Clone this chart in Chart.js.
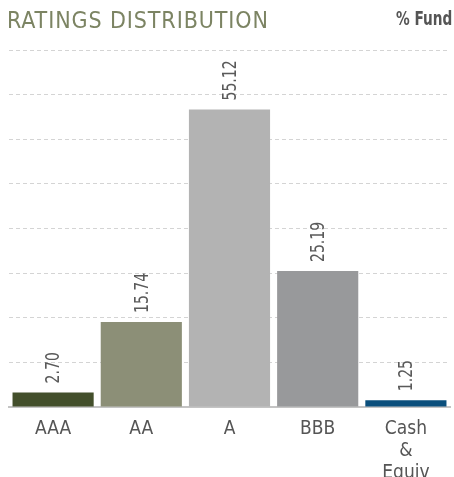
<!DOCTYPE html>
<html lang="en">
<head>
  <meta charset="UTF-8">
  <title>Ratings Distribution</title>
  <script src="https://cdn.jsdelivr.net/npm/chart.js"></script>
  <style>
    body { margin: 0; background: #fff; font-family: 'Liberation Sans Narrow', 'DejaVu Sans Condensed', sans-serif; }
    #wrap { position: relative; width: 454px; height: 477px; overflow: hidden; }
    #title { position: absolute; left: 7px; top: 7px; font-size: 23px; color: #7c8463; letter-spacing: 0.9px; white-space: nowrap; }
    #unit { position: absolute; right: 2px; top: 7px; font-size: 19px; font-weight: bold; color: #555;
            transform: scaleX(0.8); transform-origin: right center; white-space: nowrap; }
    canvas { position: absolute; left: 0; top: 0; }
  </style>
</head>
<body>
  <div id="wrap">
    <canvas id="chartCanvas" width="454" height="477"></canvas>
    <div id="title">RATINGS DISTRIBUTION</div>
    <div id="unit">% Fund</div>
  </div>

  <script>
    const categories = ['AAA', 'AA', 'A', 'BBB', ['Cash', '&', 'Equiv']];
    const fundPct = [2.70, 15.74, 55.12, 25.19, 1.25];
    const valueLabels = ['2.70', '15.74', '55.12', '25.19', '1.25'];
    const barColors = ['#434f2b', '#8c8f77', '#b3b3b3', '#98999b', '#0b4f7c'];

    const FONT = "'Liberation Sans Narrow', 'DejaVu Sans Condensed', sans-serif";

    // rotated value labels above each bar (squeezed a bit to look condensed)
    const valueLabelPlugin = {
      id: 'valueLabels',
      afterDatasetsDraw(chart) {
        const ctx = chart.ctx;
        const meta = chart.getDatasetMeta(0);
        ctx.save();
        ctx.fillStyle = '#5a5a5a';
        ctx.font = '20px ' + FONT;
        ctx.textAlign = 'left';
        ctx.textBaseline = 'middle';
        meta.data.forEach((bar, i) => {
          ctx.save();
          ctx.translate(bar.x + 1, bar.y - 9);
          ctx.rotate(-Math.PI / 2);
          ctx.scale(0.78, 1);
          ctx.fillText(valueLabels[i], 0, 0);
          ctx.restore();
        });
        ctx.restore();
      }
    };

    new Chart(document.getElementById('chartCanvas'), {
      type: 'bar',
      data: {
        labels: categories,
        datasets: [{ data: fundPct, backgroundColor: barColors, barPercentage: 0.92, categoryPercentage: 1 }]
      },
      options: {
        responsive: false,
        animation: false,
        layout: { padding: { top: 50, left: 9, right: 4, bottom: 0 } },
        plugins: { legend: { display: false }, tooltip: { enabled: false } },
        scales: {
          x: {
            grid: { display: false },
            border: { display: true, color: '#c4c4c4', width: 2 },
            ticks: { color: '#555', font: { family: FONT, size: 19, lineHeight: 1.15 }, padding: 3, maxRotation: 0 },
            afterFit(scale) { scale.height = 70; }
          },
          y: {
            min: 0,
            max: 66.144,
            ticks: { display: false, count: 9 },
            grid: { color: '#d4d4d4', lineWidth: 1, drawTicks: false },
            border: { display: false, dash: [4, 3] }
          }
        }
      },
      plugins: [valueLabelPlugin]
    });
  </script>
</body>
</html>
